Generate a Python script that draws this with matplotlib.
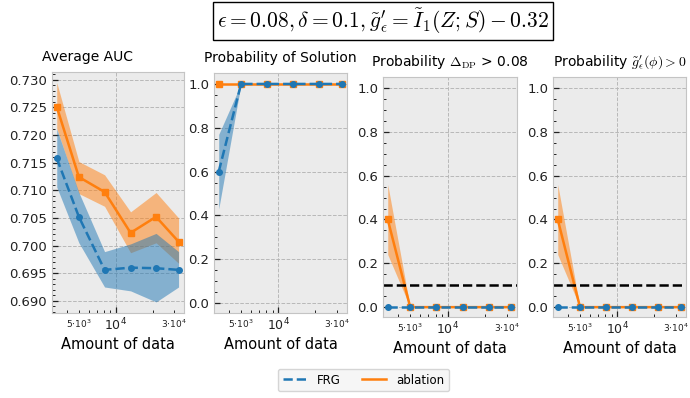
import numpy as np
import matplotlib.pyplot as plt
from matplotlib.ticker import MultipleLocator, AutoMinorLocator, FuncFormatter, LogLocator

plt.rcParams['mathtext.fontset'] = 'cm'
plt.rcParams['font.family'] = 'DejaVu Sans'

# amount of data (x axis)
n_data = [3300, 5000, 8100, 13200, 21300, 32500]

# Average AUC
auc_frg = [0.7158, 0.7052, 0.6956, 0.6960, 0.6959, 0.6956]
auc_frg_lo = [0.7106, 0.7005, 0.6925, 0.6918, 0.6898, 0.6925]
auc_frg_hi = [0.7211, 0.7096, 0.6989, 0.7003, 0.7022, 0.6989]
auc_abl = [0.7251, 0.7124, 0.7097, 0.7023, 0.7052, 0.7007]
auc_abl_lo = [0.7212, 0.7094, 0.7071, 0.6987, 0.7005, 0.6968]
auc_abl_hi = [0.7295, 0.7152, 0.7128, 0.7061, 0.7096, 0.7050]

# Probability of solution
sol_frg = [0.6, 1.0, 1.0, 1.0, 1.0, 1.0]
sol_frg_lo = [0.43, 1.0, 1.0, 1.0, 1.0, 1.0]
sol_frg_hi = [0.77, 1.0, 1.0, 1.0, 1.0, 1.0]
sol_abl = [1.0, 1.0, 1.0, 1.0, 1.0, 1.0]

# Probability Delta_DP > 0.08
dp_frg = [0.0, 0.0, 0.0, 0.0, 0.0, 0.0]
dp_abl = [0.4, 0.0, 0.0, 0.0, 0.0, 0.0]
dp_abl_lo = [0.24, 0.0, 0.0, 0.0, 0.0, 0.0]
dp_abl_hi = [0.56, 0.0, 0.0, 0.0, 0.0, 0.0]

# Probability g'(phi) > 0
g_frg = [0.0, 0.0, 0.0, 0.0, 0.0, 0.0]
g_abl = [0.4, 0.0, 0.0, 0.0, 0.0, 0.0]
g_abl_lo = [0.24, 0.0, 0.0, 0.0, 0.0, 0.0]
g_abl_hi = [0.56, 0.0, 0.0, 0.0, 0.0, 0.0]

threshold = 0.1

titles = ['Average AUC', 'Probability of Solution',
          r'Probability $\Delta_{\rm DP}$ > 0.08',
          r"Probability $\tilde{g}^{\prime}_{\epsilon}(\phi) > 0$"]

blue = '#1f77b4'
orange = '#ff7f0e'

fig = plt.figure(figsize=(6.9, 3.98), dpi=100)
rects = [[0.0754, 0.2136, 0.1913, 0.6055],
         [0.3101, 0.2136, 0.1928, 0.6030],
         [0.5550, 0.2035, 0.1942, 0.6030],
         [0.8014, 0.2035, 0.1928, 0.6030]]
axes = [fig.add_axes(r) for r in rects]


def minor_fmt(x, pos):
    if abs(x - 5000) < 1:
        return r'$\mathdefault{5{\cdot}10^{3}}$'
    if abs(x - 30000) < 1:
        return r'$\mathdefault{3{\cdot}10^{4}}$'
    return ''


def style(ax):
    ax.set_facecolor('#ebebeb')
    for s in ax.spines.values():
        s.set_color('#c4c4c4')
    ax.set_xscale('log')
    ax.set_xlim(3020, 36000)
    ax.xaxis.set_major_locator(LogLocator(base=10))
    ax.xaxis.set_minor_locator(LogLocator(base=10, subs=np.arange(2, 10)))
    ax.xaxis.set_minor_formatter(FuncFormatter(minor_fmt))
    ax.yaxis.set_minor_locator(AutoMinorLocator())
    ax.tick_params(which='both', direction='in', top=False, right=False, colors='#222222')
    ax.tick_params(which='major', length=4, width=0.9)
    ax.tick_params(which='minor', length=2, width=0.7)
    ax.tick_params(axis='x', which='major', labelsize=9, pad=3)
    ax.tick_params(axis='x', which='minor', labelsize=6.5, pad=3)
    ax.tick_params(axis='y', labelsize=9.5)
    ax.grid(which='major', linestyle='--', color='#b8b8b8', linewidth=0.7)
    ax.set_axisbelow(True)
    ax.set_xlabel('Amount of data', fontsize=10.5, labelpad=2)


def draw(ax, frg, abl, frg_band=None, abl_band=None):
    if abl_band is not None:
        ax.fill_between(n_data, abl_band[0], abl_band[1], color=orange, alpha=0.5, linewidth=0)
    ax.plot(n_data, abl, color=orange, linestyle='-', marker='s', markersize=4.5, linewidth=1.8)
    if frg_band is not None:
        ax.fill_between(n_data, frg_band[0], frg_band[1], color=blue, alpha=0.5, linewidth=0)
    ax.plot(n_data, frg, color=blue, linestyle='--', marker='o', markersize=4, linewidth=1.8)


draw(axes[0], auc_frg, auc_abl, (auc_frg_lo, auc_frg_hi), (auc_abl_lo, auc_abl_hi))
draw(axes[1], sol_frg, sol_abl, (sol_frg_lo, sol_frg_hi))
draw(axes[2], dp_frg, dp_abl, None, (dp_abl_lo, dp_abl_hi))
draw(axes[3], g_frg, g_abl, None, (g_abl_lo, g_abl_hi))

for i, ax in enumerate(axes):
    style(ax)
    if i == 0:
        ax.set_title(titles[i], fontsize=10, pad=8, x=0.27)
    else:
        ax.set_title(titles[i], fontsize=10, pad=8)
    if i == 0:
        ax.set_ylim(0.6878, 0.7314)
        ax.yaxis.set_major_locator(MultipleLocator(0.005))
        ax.yaxis.set_major_formatter(FuncFormatter(lambda v, p: '%.3f' % v))
    else:
        ax.set_ylim(-0.045, 1.05)
        ax.yaxis.set_major_locator(MultipleLocator(0.2))
        ax.yaxis.set_major_formatter(FuncFormatter(lambda v, p: '%.1f' % v))
    if i >= 2:
        ax.axhline(threshold, color='black', linestyle='--', linewidth=1.8)

fig.text(0.555, 0.947,
         r"$\epsilon = 0.08, \delta = 0.1, \tilde{g}^{\prime}_{\epsilon} = \tilde{I}_1(Z;S) - 0.32$",
         ha='center', va='center', fontsize=15.5,
         bbox=dict(boxstyle='square,pad=0.2', facecolor='white', edgecolor='black', linewidth=1))

h_frg, = axes[0].plot([], [], color=blue, linestyle='--', linewidth=1.8)
h_abl, = axes[0].plot([], [], color=orange, linestyle='-', linewidth=1.8)
leg = fig.legend([h_frg, h_abl], ['FRG', 'ablation'], loc='center', ncol=2,
                 bbox_to_anchor=(0.527, 0.045), fontsize=8.5, frameon=True,
                 handlelength=2.0, handletextpad=0.9, columnspacing=1.8)
leg.get_frame().set_facecolor('#f4f4f4')
leg.get_frame().set_edgecolor('#cccccc')

fig.savefig('out.png', dpi=100)
